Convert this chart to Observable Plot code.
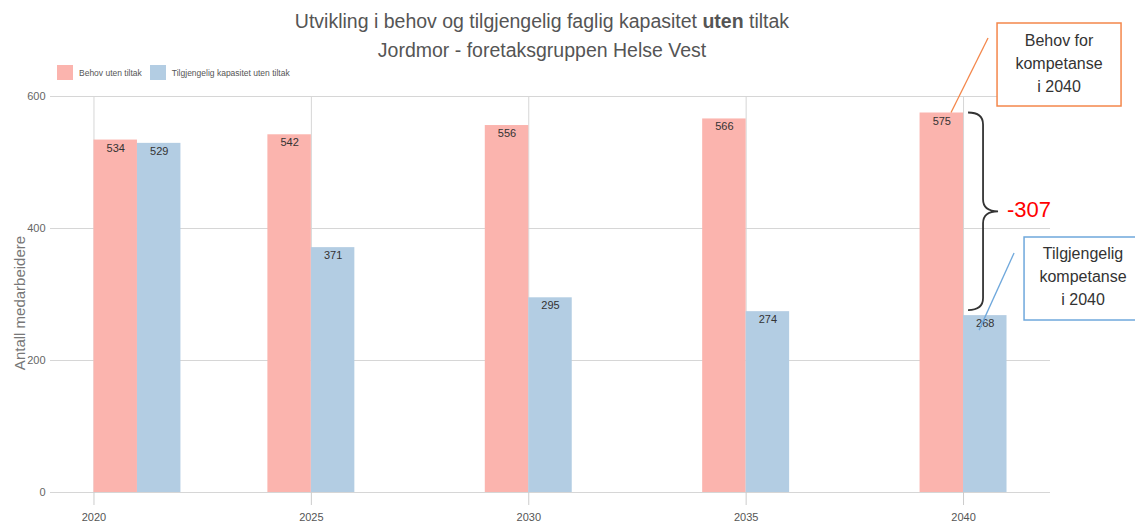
<!DOCTYPE html>
<html><head><meta charset="utf-8">
<script src="https://cdn.jsdelivr.net/npm/d3@7"></script>
<script src="https://cdn.jsdelivr.net/npm/@observablehq/plot@0.6"></script>
<style>
body{margin:0;background:#fff;font-family:"Liberation Sans",Arial,sans-serif;}
#wrap{position:relative;width:1135px;height:524px;overflow:hidden;background:#fff;}
#wrap svg{position:absolute;left:0;top:0;overflow:visible;}
#title{position:absolute;left:0;top:7px;width:1084px;text-align:center;font-size:19.5px;color:#555;line-height:29px;z-index:2;}
#legend{position:absolute;left:57px;top:65px;height:15px;display:flex;align-items:center;font-size:8.5px;color:#555;z-index:2;}
#legend .sw{width:16px;height:15px;display:inline-block;margin-right:6px;}
#legend .it{display:flex;align-items:center;margin-right:8px;}
#ylab{position:absolute;left:19px;top:303px;transform:translate(-50%,-50%) rotate(-90deg);font-size:15px;color:#777;white-space:nowrap;z-index:2;}
</style></head>
<body>
<div id="wrap">
  <div id="title">Utvikling i behov og tilgjengelig faglig kapasitet <b>uten</b> tiltak<br>Jordmor - foretaksgruppen Helse Vest</div>
  <div id="legend"></div>
  <div id="ylab">Antall medarbeidere</div>
</div>
<script>
const years = [2021, 2025, 2030, 2035, 2040];
const tickYears = [2020, 2025, 2030, 2035, 2040];
const behov = [534, 542, 556, 566, 575];
const tilgjengelig = [529, 371, 295, 274, 268];
const yTicks = [0, 200, 400, 600];
const seriesNames = ["Behov uten tiltak", "Tilgjengelig kapasitet uten tiltak"];
const seriesColors = ["#FBB4AE", "#B3CDE3"];

const data = years.map((y, i) => ({year: y, behov: behov[i], tilg: tilgjengelig[i]}));

const legend = document.getElementById("legend");
seriesNames.forEach((n, i) => {
  const it = document.createElement("div"); it.className = "it";
  const sw = document.createElement("span"); sw.className = "sw"; sw.style.background = seriesColors[i];
  const t = document.createElement("span"); t.textContent = n;
  it.appendChild(sw); it.appendChild(t); legend.appendChild(it);
});

const plot = Plot.plot({
  width: 1135, height: 524,
  marginTop: 96, marginBottom: 32, marginLeft: 50, marginRight: 85,
  style: {fontFamily: '"Liberation Sans", Arial, sans-serif', fontSize: "11px", color: "#555", background: "transparent", overflow: "visible"},
  x: {domain: [2019, 2042]},
  y: {domain: [0, 600]},
  marks: [
    Plot.gridY(yTicks, {stroke: "#d6d6d6", strokeOpacity: 1}),
    Plot.gridX(tickYears, {stroke: "#d6d6d6", strokeOpacity: 1}),
    Plot.axisY(yTicks, {tickSize: 0, tickPadding: 5, label: null, fill: "#666"}),
    Plot.axisX(tickYears, {tickSize: 13, tickPadding: 8, stroke: "#ccc", tickFormat: d => String(d), label: null, fill: "#555"}),
    Plot.rectY(data, {x1: d => d.year - 1, x2: d => d.year, y: "behov", fill: seriesColors[0]}),
    Plot.rectY(data, {x1: d => d.year, x2: d => d.year + 1, y: "tilg", fill: seriesColors[1]}),
    Plot.text(data, {x: d => d.year - 0.5, y: "behov", text: d => String(d.behov), dy: 8, lineAnchor: "middle", fill: "#333", fontSize: 11}),
    Plot.text(data, {x: d => d.year + 0.5, y: "tilg", text: d => String(d.tilg), dy: 8, lineAnchor: "middle", fill: "#333", fontSize: 11})
  ]
});
const wrap = document.getElementById("wrap");
wrap.insertBefore(plot, wrap.firstChild);

// annotations
const sx = plot.scale("x"), sy = plot.scale("y");
const xs = d3.scaleLinear(sx.domain, sx.range);
const ys = d3.scaleLinear(sy.domain, sy.range);
const last = data[data.length - 1];
const svg = d3.select(plot);
const g = svg.append("g").attr("font-family", '"Liberation Sans", Arial, sans-serif');
const ax = xs(last.year);
const yTop = ys(last.behov), yBot = ys(last.tilg) - 5;
const bx = ax + 20, mid = (yTop + yBot) / 2;

// brace
g.append("path")
  .attr("d", `M${bx-15},${yTop} Q${bx},${yTop} ${bx},${yTop+12} L${bx},${mid-12} Q${bx},${mid} ${bx+15},${mid} Q${bx},${mid} ${bx},${mid+12} L${bx},${yBot-12} Q${bx},${yBot} ${bx-15},${yBot}`)
  .attr("fill", "none").attr("stroke", "#333").attr("stroke-width", 1.8);
g.append("text").attr("x", bx + 24).attr("y", mid).attr("dominant-baseline", "middle").attr("text-anchor", "start")
  .attr("fill", "#ff0000").attr("font-size", 22).text(String(last.tilg - last.behov));

// orange box
const ob = {x: ax + 34, y: 23, w: 124, h: 83};
g.append("line").attr("x1", ax + 25).attr("y1", 38).attr("x2", ax - 12).attr("y2", yTop)
  .attr("stroke", "#F4874B").attr("stroke-width", 1.3);
g.append("rect").attr("x", ob.x).attr("y", ob.y).attr("width", ob.w).attr("height", ob.h)
  .attr("fill", "#fff").attr("stroke", "#F4874B").attr("stroke-width", 1.5);
["Behov for", "kompetanse", "i 2040"].forEach((t, i) =>
  g.append("text").attr("x", ob.x + ob.w / 2).attr("y", ob.y + 19 + i * 23).attr("text-anchor", "middle")
    .attr("dominant-baseline", "middle").attr("font-size", 16).attr("fill", "#333").text(t));

// blue box
const bb = {x: ax + 61, y: 237, w: 120, h: 83};
g.append("line").attr("x1", ax + 51).attr("y1", 253).attr("x2", ax + 16).attr("y2", ys(last.tilg) + 15)
  .attr("stroke", "#6FA8DC").attr("stroke-width", 1.3);
g.append("rect").attr("x", bb.x).attr("y", bb.y).attr("width", bb.w).attr("height", bb.h)
  .attr("fill", "#fff").attr("stroke", "#6FA8DC").attr("stroke-width", 1.5);
["Tilgjengelig", "kompetanse", "i 2040"].forEach((t, i) =>
  g.append("text").attr("x", bb.x + 59).attr("y", bb.y + 18 + i * 23).attr("text-anchor", "middle")
    .attr("dominant-baseline", "middle").attr("font-size", 16).attr("fill", "#333").text(t));
</script>
</body></html>
